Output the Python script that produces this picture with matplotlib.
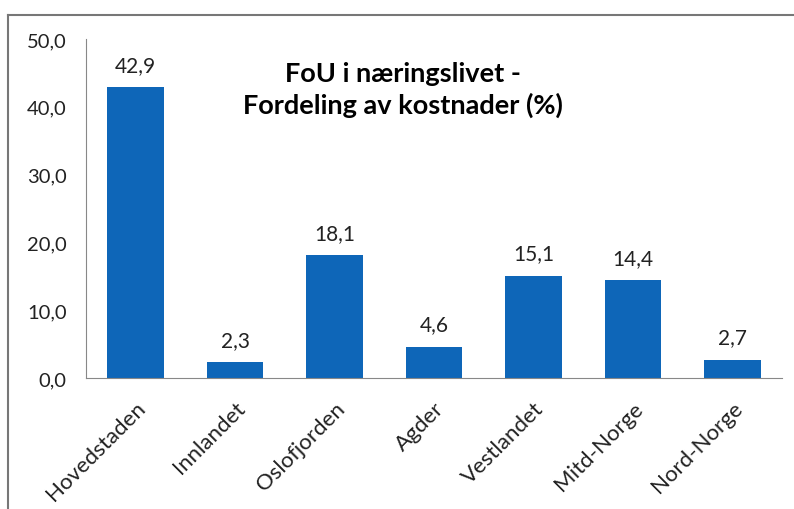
import matplotlib.pyplot as plt

regions = ["Hovedstaden", "Innlandet", "Oslofjorden", "Agder",
           "Vestlandet", "Mitd-Norge", "Nord-Norge"]
shares = [42.9, 2.3, 18.1, 4.6, 15.1, 14.4, 2.7]
yticks = [0, 10, 20, 30, 40, 50]

plt.rcParams["font.family"] = ["Lato", "DejaVu Sans"]

fig = plt.figure(figsize=(7.94, 5.10), dpi=100)
W, H = 794, 510
ax = fig.add_axes([86 / W, 1 - 379 / H, (782 - 86) / W, (379 - 40) / H])

bars = ax.bar(range(len(regions)), shares, width=0.57, color="#0E66B8")
for b, v in zip(bars, shares):
    ax.annotate(f"{v:.1f}".replace(".", ","), (b.get_x() + b.get_width() / 2, v),
                xytext=(0, 9), textcoords="offset points",
                ha="center", va="bottom", fontsize=15, color="#222222")

ax.set_xlim(-0.5, len(regions) - 0.5)
ax.set_ylim(0, 50)
ax.set_yticks(yticks)
ax.set_yticklabels([f"{t:.1f}".replace(".", ",") for t in yticks], fontsize=14.5, color="#222222")
ax.set_xticks(range(len(regions)))
ax.set_xticklabels(regions, rotation=45, ha="right", rotation_mode="anchor",
                   fontsize=16, color="#222222")
ax.tick_params(axis="y", length=0, pad=14)
ax.tick_params(axis="x", length=0, pad=14)

for s in ["top", "right"]:
    ax.spines[s].set_visible(False)
ax.spines["left"].set_color("#888888")
ax.spines["bottom"].set_color("#888888")

ax.text(0.455, 0.935, "FoU i næringslivet -\nFordeling av kostnader (%)",
        transform=ax.transAxes, ha="center", va="top", fontsize=19.5,
        fontweight="bold", linespacing=1.3)

# outer frame (top and left edge only visible)
fig.add_artist(plt.Line2D([8 / W, 1], [1 - 16 / H, 1 - 16 / H], color="#777777", lw=1.5))
fig.add_artist(plt.Line2D([8 / W, 8 / W], [0, 1 - 16 / H], color="#777777", lw=1.5))

fig.savefig("out.png", dpi=100)
